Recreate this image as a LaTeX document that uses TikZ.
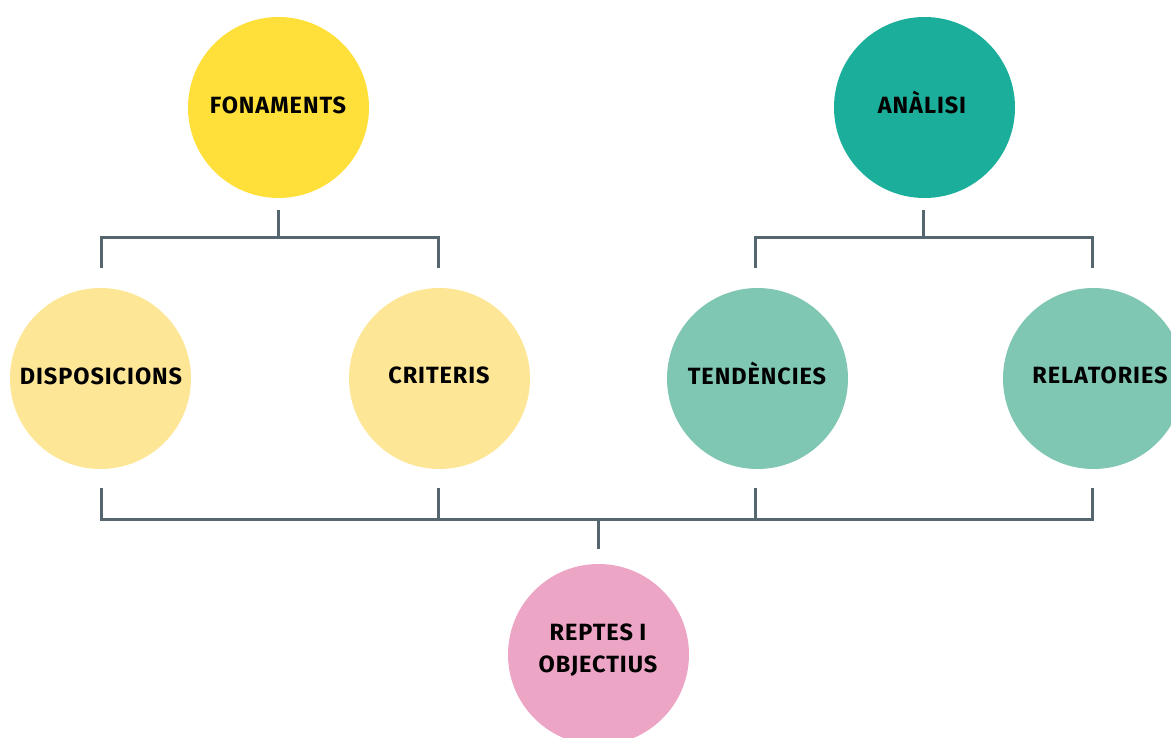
\documentclass[tikz,border=0pt]{standalone}
\usepackage{fontspec}
\setmainfont{Fira Sans}[UprightFont=* Bold]
\usetikzlibrary{calc}
\definecolor{cYel}{HTML}{FFE03A}
\definecolor{cYelL}{HTML}{FDE796}
\definecolor{cTeal}{HTML}{1BAE9B}
\definecolor{cTealL}{HTML}{7FC7B3}
\definecolor{cPink}{HTML}{EDA5C6}
\definecolor{cLine}{HTML}{56666E}
\tikzset{
  bubble/.style={circle, minimum size=181pt, inner sep=0pt},
  lbl/.style={inner sep=0pt, text=black, font=\fontsize{23.5}{32}\selectfont\addfontfeatures{LetterSpace=4}, align=center},
  conn/.style={draw=cLine, line width=3pt}
}
\begin{document}
\begin{tikzpicture}[x=1pt,y=-1pt]
\useasboundingbox (0,0) rectangle (1171,738);
\clip (0,0) rectangle (1171,738);
\node[bubble, fill=cYel] (fon) at (278.5,107.5) {};
\node[bubble, fill=cTeal] (ana) at (924.5,107.5) {};
\node[bubble, fill=cYelL] (dis) at (100.5,378.5) {};
\node[bubble, fill=cYelL] (cri) at (439.5,378.5) {};
\node[bubble, fill=cTealL] (ten) at (757.5,378.5) {};
\node[bubble, fill=cTealL] (rel) at (1093.5,378.5) {};
\node[bubble, fill=cPink] (rep) at (598.5,654.5) {};
\node[lbl] (fonT) at (278,105) {FONAMENTS};
\node[lbl] (anaT) at (922,102) {ANÀLISI};
\node[lbl] (disT) at (101,376) {DISPOSICIONS};
\node[lbl] (criT) at (439,375) {CRITERIS};
\node[lbl] (tenT) at (757,373) {TENDÈNCIES};
\node[lbl] (relT) at (1100,375) {RELATORIES};
\node[lbl] (repT) at (598,650) {REPTES I\\OBJECTIUS};
% top-left tree
\coordinate (fonA) at (278,210);
\coordinate (fonB) at (278,238);
\coordinate (disTop) at (101,268);
\coordinate (criTop) at (438,268);
\draw[conn] (fonA) -- (fonB);
\draw[conn] (disTop) |- (fonB) -| (criTop);
% top-right tree
\coordinate (anaA) at (923,210);
\coordinate (anaB) at (923,238);
\coordinate (tenTop) at (755,268);
\coordinate (relTop) at (1092,268);
\draw[conn] (anaA) -- (anaB);
\draw[conn] (tenTop) |- (anaB) -| (relTop);
% bottom tree
\coordinate (disB) at (101,488);
\coordinate (criB) at (438,488);
\coordinate (tenB) at (755,488);
\coordinate (relB) at (1092,488);
\coordinate (repA) at (598,519);
\coordinate (repB) at (598,549);
\draw[conn] (disB) |- (repA) -| (relB);
\draw[conn] (criB) -- (criB |- repA);
\draw[conn] (tenB) -- (tenB |- repA);
\draw[conn] (repA) -- (repB);
\end{tikzpicture}
\end{document}
